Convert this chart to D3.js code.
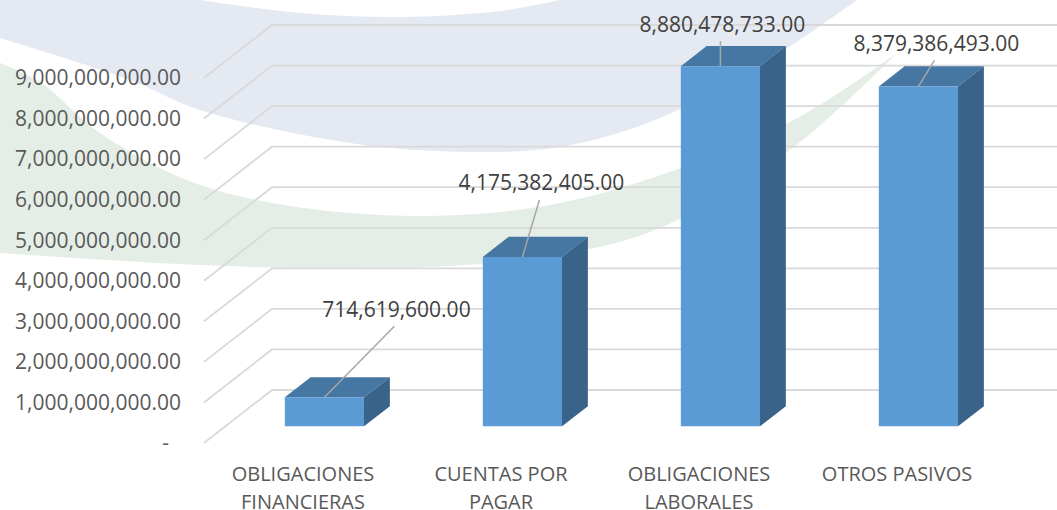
<!DOCTYPE html>
<html>
<head>
<meta charset="utf-8">
<script src="https://cdn.jsdelivr.net/npm/d3@7"></script>
<style>
  body { margin: 0; background: #fff; }
  svg { display: block; }
  text { font-family: "Open Sans", sans-serif; }
</style>
</head>
<body>
<svg id="chart" width="1057" height="510"></svg>
<script>
const categories = ["OBLIGACIONES\nFINANCIERAS", "CUENTAS POR\nPAGAR", "OBLIGACIONES\nLABORALES", "OTROS PASIVOS"];
const values = [714619600, 4175382405, 8880478733, 8379386493];
const yTicks = [0, 1e9, 2e9, 3e9, 4e9, 5e9, 6e9, 7e9, 8e9, 9e9];
// where the data labels were dragged to, relative to the top of each bar
const labelOffsets = [[72, -88], [19, -74], [2, -42], [18, -43]];

const svg = d3.select('#chart');

// oblique 3d: full depth of the plot goes this far right / up
const depth = {dx: 68, dy: -53};
const barDepth = [0.315, 0.695];

const x = d3.scaleBand()
            .domain(categories)
            .range([204, 996])
            .paddingInner(0.6)
            .paddingOuter(0.3);

const y = d3.scaleLinear()
            .domain([0, 9e9])
            .range([443, 78]);

const fmt = d3.format(',.2f');

function proj(px, v, d) {
    return [px + d * depth.dx, y(v) + d * depth.dy];
}

// watermark in the background
const wm = svg.append('g').classed('watermark', true);
const curve = d3.line().curve(d3.curveCatmullRom);

const blueTop = [[200, 0], [300, 13], [400, 17], [500, 11], [560, 0]];
const blueBottom = [[857, 0], [750, 72], [650, 122], [560, 147], [470, 152], [350, 143], [200, 110], [130, 80], [0, 38]];
wm.append('path')
    .attr('d', 'M0,0' + curve(blueTop).replace('M', 'L') + 'L857,0' + curve(blueBottom).replace('M', 'L') + 'Z')
    .attr('fill', '#e4e9f2');

const greenTop = [[0, 63], [40, 82], [100, 133], [200, 185], [350, 213], [500, 212], [620, 188], [790, 122], [897, 53]];
const greenBottom = [[897, 53], [790, 150], [650, 232], [500, 262], [350, 268], [200, 265], [0, 253]];
wm.append('path')
    .attr('d', curve(greenTop) + curve(greenBottom).replace('M', 'L') + 'Z')
    .attr('fill', '#e5eee6');

// gridlines: back wall + left wall
const grid = svg.append('g').classed('grid', true);
yTicks.forEach(t => {
    const f = proj(x.range()[0], t, 0);
    const b = proj(x.range()[0], t, 1);
    grid.append('path')
        .attr('d', `M${f[0]},${f[1]}L${b[0]},${b[1]}L${x.range()[1] + depth.dx},${b[1]}`)
        .attr('fill', 'none')
        .attr('stroke', '#d9d9d9')
        .attr('stroke-width', 1.8);
});

// y labels
svg.append('g')
    .selectAll('.ytick')
        .data(yTicks)
    .enter()
    .append('text')
        .classed('ytick', true)
        .attr('x', d => d === 0 ? 169 : 181)
        .attr('y', d => y(d))
        .attr('dy', '0.35em')
        .attr('text-anchor', 'end')
        .attr('fill', '#595959')
        .style('font-size', '21px')
        .text(d => d === 0 ? '-' : fmt(d));

// bars
const bars = svg.append('g')
    .selectAll('.bar')
        .data(values.map((v, i) => ({cat: categories[i], value: v, i})))
    .enter()
    .append('g')
        .classed('bar', true);

const poly = pts => 'M' + pts.map(p => p.join(',')).join('L') + 'Z';

bars.append('path')
    .attr('d', d => {
        const x0 = x(d.cat), x1 = x0 + x.bandwidth();
        return poly([proj(x0, d.value, barDepth[0]), proj(x0, d.value, barDepth[1]),
                     proj(x1, d.value, barDepth[1]), proj(x1, d.value, barDepth[0])]);
    })
    .attr('fill', '#4676a2');

bars.append('path')
    .attr('d', d => {
        const x1 = x(d.cat) + x.bandwidth();
        return poly([proj(x1, 0, barDepth[0]), proj(x1, d.value, barDepth[0]),
                     proj(x1, d.value, barDepth[1]), proj(x1, 0, barDepth[1])]);
    })
    .attr('fill', '#396388');

bars.append('path')
    .attr('d', d => {
        const x0 = x(d.cat), x1 = x0 + x.bandwidth();
        return poly([proj(x0, 0, barDepth[0]), proj(x0, d.value, barDepth[0]),
                     proj(x1, d.value, barDepth[0]), proj(x1, 0, barDepth[0])]);
    })
    .attr('fill', '#5b9bd5');

// data labels with leader lines
bars.each(function(d) {
    const g = d3.select(this);
    const top = proj(x(d.cat) + x.bandwidth() / 2, d.value, barDepth[0]);
    const [ox, oy] = labelOffsets[d.i];
    const lx = top[0] + ox, ly = top[1] + oy;
    g.append('line')
        .attr('x1', top[0]).attr('y1', top[1])
        .attr('x2', lx - 2).attr('y2', ly + 17)
        .attr('stroke', '#a6a6a6')
        .attr('stroke-width', 1.5);
    g.append('text')
        .attr('x', lx)
        .attr('y', ly)
        .attr('dy', '0.35em')
        .attr('text-anchor', 'middle')
        .attr('fill', '#404040')
        .style('font-size', '21px')
        .text(fmt(d.value));
});

// category labels
svg.append('g')
    .selectAll('.xlabel')
        .data(categories)
    .enter()
    .append('text')
        .classed('xlabel', true)
        .attr('x', d => x(d) + x.bandwidth() / 2)
        .attr('y', 474)
        .attr('text-anchor', 'middle')
        .attr('fill', '#595959')
        .style('font-size', '20px')
        .each(function(d) {
            d.split('\n').forEach((line, k) => {
                d3.select(this).append('tspan')
                    .attr('x', x(d) + x.bandwidth() / 2)
                    .attr('dy', k === 0 ? '0.35em' : '28px')
                    .text(line);
            });
        });
</script>
</body>
</html>
